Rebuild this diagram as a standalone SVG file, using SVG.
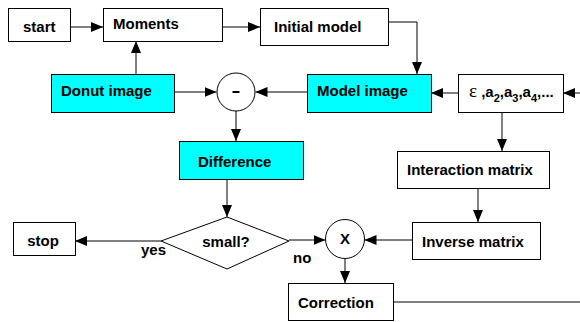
<svg xmlns="http://www.w3.org/2000/svg" width="580" height="322" viewBox="0 0 580 322">
<defs>
<marker id="ah" markerUnits="userSpaceOnUse" markerWidth="12" markerHeight="10" viewBox="0 0 12 10" refX="12" refY="5" orient="auto">
<path d="M0,0 L12,5 L0,10 Z" fill="#000"/>
</marker>
<style>
.box{fill:#fff;stroke:#000;stroke-width:1}
.cyan{fill:#00ffff;stroke:#000;stroke-width:1}
.t{font-family:"Liberation Sans",Arial,sans-serif;font-weight:bold;font-size:15px;fill:#000}
.ln{fill:none;stroke:#000;stroke-width:1}
.ar{fill:none;stroke:#000;stroke-width:1;marker-end:url(#ah)}
</style>
</defs>
<rect width="580" height="322" fill="#fff"/>
<g id="connectors">
<line class="ar" x1="70" y1="27" x2="103" y2="27"/>
<line class="ar" x1="222" y1="27" x2="260" y2="27"/>
<polyline class="ar" points="388,22 417,22 417,74"/>
<line class="ar" x1="136" y1="74" x2="136" y2="41"/>
<line class="ar" x1="174" y1="92" x2="216.5" y2="92"/>
<line class="ar" x1="307" y1="92" x2="255.5" y2="92"/>
<line class="ar" x1="459" y1="93" x2="431" y2="93"/>
<line class="ar" x1="580" y1="93" x2="563" y2="93"/>
<line class="ar" x1="236" y1="111" x2="236" y2="141"/>
<line class="ar" x1="227" y1="179" x2="227" y2="217"/>
<line class="ar" x1="161" y1="241" x2="75" y2="241"/>
<line class="ar" x1="289" y1="240" x2="325.5" y2="240"/>
<line class="ar" x1="412" y1="240" x2="364.5" y2="240"/>
<line class="ar" x1="502" y1="112" x2="502" y2="151"/>
<line class="ar" x1="478" y1="188" x2="478" y2="222"/>
<line class="ar" x1="345" y1="259" x2="345" y2="283"/>
<line class="ln" x1="393" y1="302" x2="580" y2="302"/>
</g>
<g id="start"><rect class="box" x="8.5" y="8.5" width="62" height="33"/><text class="t" x="23" y="32">start</text></g>
<g id="moments"><rect class="box" x="103.5" y="8.5" width="119" height="33"/><text class="t" x="113" y="29">Moments</text></g>
<g id="initial-model"><rect class="box" x="260.5" y="8.5" width="128" height="37"/><text class="t" x="274" y="32">Initial model</text></g>
<g id="donut-image"><rect class="cyan" x="51.5" y="74.5" width="123" height="38"/><text class="t" x="61" y="96">Donut image</text></g>
<g id="minus"><circle class="box" cx="236" cy="92" r="19"/><line x1="232.5" y1="92" x2="239.5" y2="92" stroke="#000" stroke-width="2"/></g>
<g id="model-image"><rect class="cyan" x="307.5" y="74.5" width="124" height="38"/><text class="t" x="317" y="96">Model image</text></g>
<g id="params"><rect class="box" x="458.5" y="74.5" width="105" height="38"/><text class="t" x="469" y="97"><tspan font-family="'Liberation Serif',serif" font-weight="normal" font-size="19">ε</tspan> ,a<tspan font-size="11" dy="5">2</tspan><tspan dy="-5">,a</tspan><tspan font-size="11" dy="5">3</tspan><tspan dy="-5">,a</tspan><tspan font-size="11" dy="5">4</tspan><tspan dy="-5">,...</tspan></text></g>
<g id="difference"><rect class="cyan" x="179.5" y="141.5" width="124" height="38"/><text class="t" x="198" y="167">Difference</text></g>
<g id="interaction-matrix"><rect class="box" x="397.5" y="151.5" width="152" height="37"/><text class="t" x="407" y="175">Interaction matrix</text></g>
<g id="small"><polygon class="box" points="161,241 227,217 289,241 227,269"/><text class="t" x="226" y="247" text-anchor="middle">small?</text></g>
<g id="stop"><rect class="box" x="13.5" y="222.5" width="62" height="33"/><text class="t" x="43" y="246" text-anchor="middle">stop</text></g>
<g id="times"><circle class="box" cx="345" cy="239" r="19.5"/><text class="t" x="345" y="244" text-anchor="middle">X</text></g>
<g id="inverse-matrix"><rect class="box" x="412.5" y="222.5" width="128" height="37"/><text class="t" x="422" y="247">Inverse matrix</text></g>
<g id="correction"><rect class="box" x="288.5" y="283.5" width="105" height="37"/><text class="t" x="298" y="308">Correction</text></g>
<g id="labels"><text class="t" x="141" y="255">yes</text><text class="t" x="293" y="263">no</text></g>
</svg>
